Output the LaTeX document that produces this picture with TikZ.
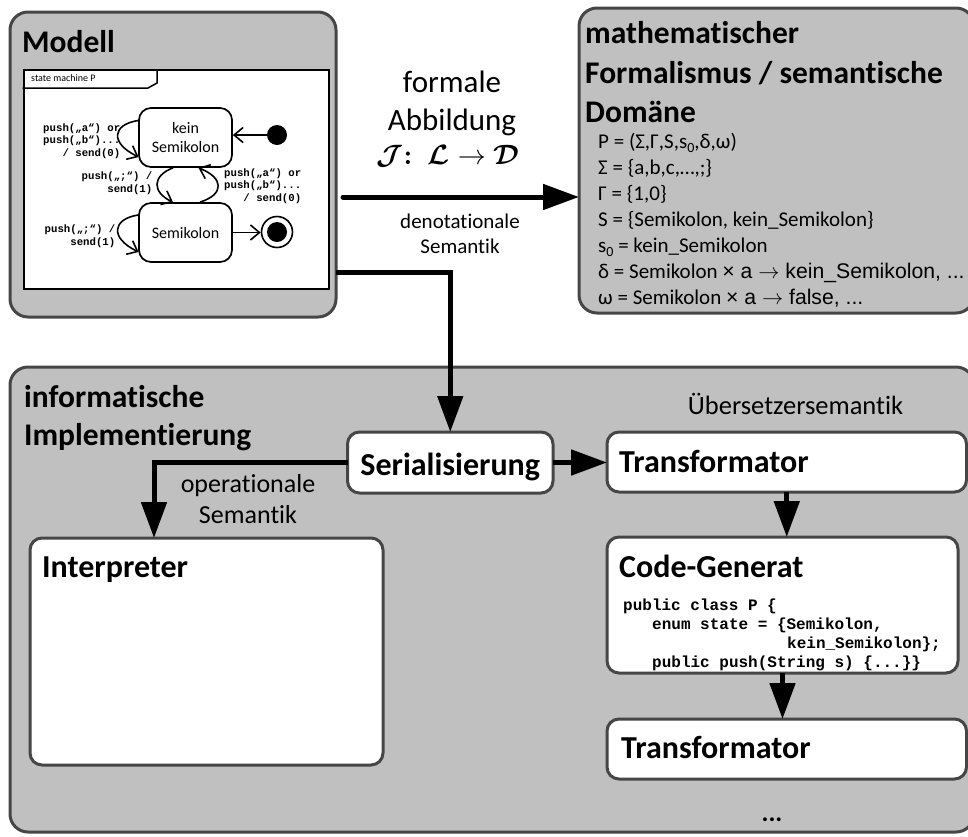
\RequirePackage{fix-cm}
\documentclass[tikz,border=0pt]{standalone}
\usepackage{amsmath}
\usepackage{bm}
\usepackage{fontspec}
\setmainfont{Carlito}[Ligatures=NoCommon]
\newfontfamily\codefont{Liberation Mono}
\newfontfamily\arialfont{Liberation Sans}
\usetikzlibrary{arrows.meta,calc}

\definecolor{panelgray}{RGB}{192,192,192}
\definecolor{panelline}{RGB}{70,70,70}

\newcommand{\fsize}[1]{\fontsize{#1}{#1}\selectfont}
\newcommand{\subnull}{\raisebox{-0.22em}{\fontsize{14}{14}\selectfont 0}}

\tikzset{
  panel/.style={draw=panelline, fill=panelgray, line width=3pt, rounded corners=18pt,
                anchor=north west, inner sep=0pt, outer sep=0pt},
  whitebox/.style={draw=panelline, fill=white, line width=3pt, rounded corners=12pt,
                   anchor=north west, inner sep=0pt, outer sep=0pt},
  flow/.style={line width=5pt, -{Triangle[length=36pt,width=25pt]}},
  title/.style={anchor=base west, inner sep=0pt, font=\fsize{31.5}\bfseries},
  bodytext/.style={anchor=base, inner sep=0pt},
  formula/.style={anchor=base west, inner sep=0pt, font=\fsize{21}},
  codeline/.style={anchor=base west, inner sep=0pt, font=\codefont\bfseries\fsize{16}},
  smstate/.style={draw, fill=white, line width=1.7pt, rounded corners=12pt,
                  minimum width=93pt, minimum height=59pt, inner sep=0pt,
                  align=center, font=\fontsize{16}{18.5}\selectfont},
  smarrow/.style={line width=1.6pt, -{Straight Barb[length=9pt,width=15pt]}},
  smlabel/.style={inner sep=0pt, align=right,
                  font=\codefont\bfseries\fontsize{10.7}{12.7}\selectfont},
}

\begin{document}
\begin{tikzpicture}[x=1pt,y=-1pt]
\useasboundingbox (0,0) rectangle (968,836);
\clip (0,0) rectangle (968,836);

% ---------- the three panels ----------
\node[panel, minimum width=326pt, minimum height=305pt] (modell) at (10,12) {};
\node[panel, minimum width=395pt, minimum height=305pt] (math) at (579,8) {};
\node[panel, minimum width=964pt, minimum height=465pt] (impl) at (10,367) {};

% ---------- Modell ----------
\node[title] (modelltitle) at (22,52) {Modell};

\node[draw, fill=white, line width=2pt, anchor=north west, inner sep=0pt,
      minimum width=305.5pt, minimum height=219pt] (smframe) at (22.5,69) {};
\draw[line width=1.5pt] ($(smframe.north west)+(0,19)$) -- ++(125.5,0) -- ++(9,-5) -- ++(0,-14);
\node[anchor=west, inner sep=0pt, font=\fsize{10}] (smname) at (31,78.5) {state machine P};

\node[smstate] (kein) at (185.5,137.5) {kein\\Semikolon};
\node[smstate] (semi) at (185.5,232.5) {Semikolon};
\node[circle, fill=black, minimum size=20pt, inner sep=0pt] (init) at (277,135) {};
\node[circle, draw, line width=1.6pt, minimum size=31pt, inner sep=0pt] (final) at (277,232) {};
\node[circle, fill=black, minimum size=20pt, inner sep=0pt] (finaldot) at (final.center) {};

\draw[smarrow] (init) -- (init -| kein.east);
\draw[smarrow] (semi.east) -- (semi.east -| final.west);
\draw[smarrow] ($(kein.west)+(0,-17)$) .. controls +(-26,4) and +(-29,-14) .. ($(kein.west)+(0.5,19.5)$);
\draw[smarrow] ($(kein.south)+(-12.5,0)$) .. controls +(-21,8) and +(-21,-10) .. ($(semi.north)+(-12.5,0)$);
\draw[smarrow] ($(semi.north)+(14.5,0)$) .. controls +(25,-8) and +(25,10) .. ($(kein.south)+(13,0)$);
\draw[smarrow] ($(semi.west)+(0,-17.5)$) .. controls +(-26,4) and +(-29,-14) .. ($(semi.west)+(0.5,19.5)$);

\node[smlabel, anchor=east] (lblkein) at (120.5,141) {push(„a“) or\\push(„b“)...\\/ send(0)};
\node[smlabel, anchor=east] (lbldown) at (152.5,183.5) {push(„;“) /\\send(1)};
\node[smlabel, anchor=west] (lblup) at (224,186) {push(„a“) or\\push(„b“)...\\/ send(0)};
\node[smlabel, anchor=east] (lblsemi) at (115.5,236) {push(„;“) /\\send(1)};

% ---------- formal mapping ----------
\coordinate (abbstart) at (343,197);
\draw[flow, line cap=round] (abbstart) -- (abbstart -| math.west);
\node[bodytext, font=\fsize{31}] (formale) at (452,92) {formale};
\node[bodytext, font=\fsize{31}] (abbildung) at (452,130) {Abbildung};
\node[bodytext, font=\fsize{28}] (mapping) at (448,164)
  {$\bm{\mathcal{J}}\mkern-5mu\bm{:}\;\bm{\mathcal{L}}\rightarrow\bm{\mathcal{D}}$};
\node[bodytext, font=\fsize{21}] (deno) at (460,228) {denotationale};
\node[bodytext, font=\fsize{21}] (denosem) at (460,253) {Semantik};

% ---------- semantic domain ----------
\node[title] (mathtitleA) at (585,43) {mathematischer};
\node[title] (mathtitleB) at (585,83) {Formalismus / semantische};
\node[title] (mathtitleC) at (585,122) {Domäne};
\node[formula] (defP) at (598,148) {P = (Σ,Γ,S,s\subnull,δ,ω)};
\node[formula] (defSigma) at (598,174) {Σ = \{a,b,c,…,;\}};
\node[formula] (defGamma) at (598,200) {Γ = \{1,0\}};
\node[formula] (defS) at (598,226) {S = \{Semikolon, kein\_Semikolon\}};
\node[formula] (defStart) at (598,252) {s\subnull{} = kein\_Semikolon};
\node[formula] (defDelta) at (598,278)
  {δ = Semikolon {\arialfont\fsize{21.2}× a $\rightarrow$ kein\_Semikolon, ...}};
\node[formula] (defOmega) at (598,304)
  {ω = Semikolon {\arialfont\fsize{21.2}× a $\rightarrow$ false, ...}};

% ---------- implementation ----------
\node[title] (impltitleA) at (24,407) {informatische};
\node[title] (impltitleB) at (24,445) {Implementierung};

\node[whitebox, minimum width=205.5pt, minimum height=61pt] (serial) at (347.5,432) {};
\node[bodytext, font=\fsize{32}\bfseries] (serialtext) at (450.25,475) {Serialisierung};

\node[whitebox, minimum width=359.5pt, minimum height=60pt] (trans1) at (607,432) {};
\node[title, font=\fsize{32}\bfseries] (trans1text) at (619,472) {Transformator};
\node[bodytext, font=\fsize{26.5}] (uebersetzer) at (795.5,414) {Übersetzersemantik};

\node[whitebox, minimum width=351pt, minimum height=136pt] (codegen) at (607,537) {};
\node[title, font=\fsize{32}\bfseries] (codegentext) at (619,577) {Code-Generat};
\node[codeline] (codeA) at (623,610) {public class P \{};
\node[codeline] (codeB) at (652,629) {enum state = \{Semikolon,};
\node[codeline] (codeC) at (787,648) {kein\_Semikolon\};};
\node[codeline] (codeD) at (652,667) {public push(String s) \{...\}\}};

\node[whitebox, minimum width=359.5pt, minimum height=60pt] (trans2) at (607,719) {};
\node[title, font=\fsize{32}\bfseries] (trans2text) at (621,758) {Transformator};
\node[bodytext, font=\fsize{26}\bfseries] (more) at (772,821) {...};

\node[whitebox, minimum width=353pt, minimum height=227pt] (interp) at (30,538) {};
\node[title, font=\fsize{32}\bfseries] (interptext) at (42,577) {Interpreter};

\node[bodytext, font=\fsize{26}] (opsem) at (248,492) {operationale};
\node[bodytext, font=\fsize{26}] (opsemb) at (248,523) {Semantik};

% ---------- connectors ----------
\coordinate (implstart) at (336,272);
\draw[flow] (implstart) -| (serial.north);
\draw[flow] (serial.west) -| ($(interp.north west)+(124,0)$);
\draw[flow] (serial.east) -- (serial.east -| trans1.west);
\draw[flow] (trans1.south) -- (trans1.south |- codegen.north);
\draw[flow] (codegen.south) -- (codegen.south |- trans2.north);
\end{tikzpicture}
\end{document}
